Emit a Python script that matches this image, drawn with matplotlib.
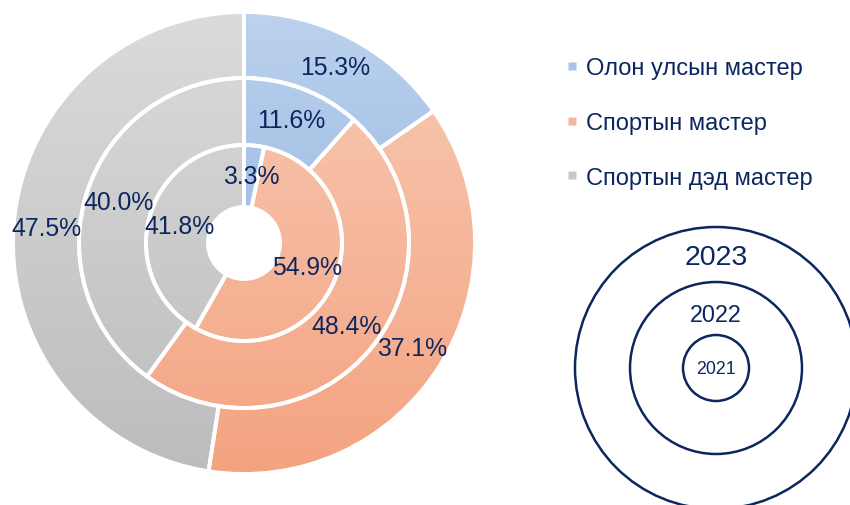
import numpy as np
import matplotlib.pyplot as plt
from matplotlib.colors import LinearSegmentedColormap
from matplotlib.lines import Line2D

plt.rcParams['font.family'] = ['Liberation Sans', 'DejaVu Sans']

categories = ['Олон улсын мастер', 'Спортын мастер', 'Спортын дэд мастер']
years = ['2021', '2022', '2023']
v2021 = [3.3, 54.9, 41.8]
v2022 = [11.6, 48.4, 40.0]
v2023 = [15.3, 37.1, 47.5]

navy = '#0c2660'
# top / bottom colour of the vertical gradient for each category
grad = [('#bcd2ee', '#84a8db'), ('#f8cbb6', '#f4a380'), ('#dbdbdb', '#bcbcbc')]
legend_cols = ['#a6c3e8', '#f5b599', '#c8c8c8']

fig = plt.figure(figsize=(8.5, 5.06), dpi=100)
ax = fig.add_axes([0, 0, 1, 1])

cx, cy, R = 244, 262, 231
rings = [(v2023, 231, 66), (v2022, 165, 67), (v2021, 98, 62)]
for vals, r, w in rings:
    wedges, texts, autotexts = ax.pie(
        vals, radius=r, center=(cx, cy), startangle=90, counterclock=False,
        wedgeprops=dict(width=w, edgecolor='white', linewidth=2.8, facecolor='none'),
        autopct='%.1f%%', pctdistance=(r - w / 2) / r,
        textprops=dict(color=navy, fontsize=17.8))
    for wdg, (c0, c1) in zip(wedges, grad):
        cmap = LinearSegmentedColormap.from_list('g', [c0, c1])
        im = ax.imshow(np.linspace(0, 1, 256).reshape(-1, 1), cmap=cmap, aspect='auto',
                       extent=(cx - R, cx + R, cy - R, cy + R), origin='upper', zorder=0.5)
        im.set_clip_path(wdg)

handles = [Line2D([], [], marker='s', linestyle='none', markersize=6,
                  markerfacecolor=c, markeredgecolor='none') for c in legend_cols]
ax.legend(handles, categories, loc='center left', bbox_to_anchor=(566, 506 - 124),
          bbox_transform=ax.transData, frameon=False, fontsize=17, labelcolor=navy,
          handlelength=0.55, handletextpad=0.3, labelspacing=1.38,
          borderpad=0, borderaxespad=0)

# year key: concentric circles
kx, ky = 716, 137
for yr, r, fs, ty in zip(years, [33, 86, 141], [12.8, 16.8, 20.5], [137, 190, 248]):
    ax.add_patch(plt.Circle((kx, ky), r, fill=False, edgecolor=navy, linewidth=1.8))
    ax.text(kx, ty, yr, color=navy, fontsize=fs, ha='center', va='center')

ax.set_xlim(0, 850)
ax.set_ylim(0, 506)
ax.set_aspect('equal')
ax.axis('off')
fig.savefig('out.png', dpi=100)
